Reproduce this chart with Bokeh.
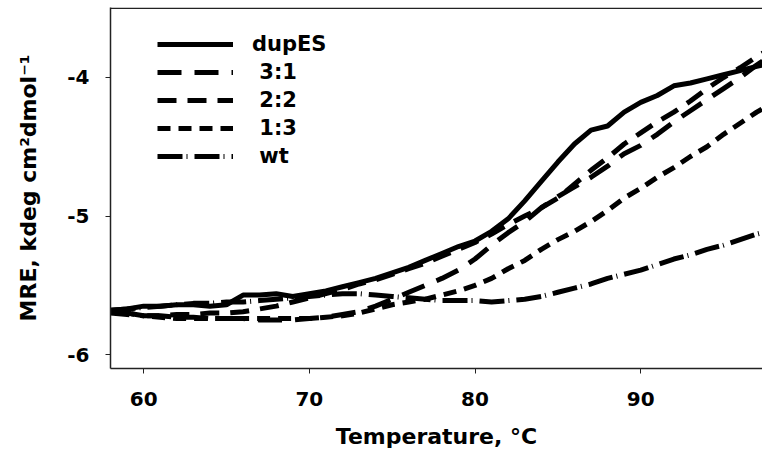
from bokeh.plotting import figure
from bokeh.models import Legend, LegendItem, FixedTicker, Span
from bokeh.embed import file_html
from bokeh.resources import INLINE

temps = list(range(58, 99))
dupES = [-5.68, -5.67, -5.65, -5.65, -5.64, -5.64, -5.65, -5.64, -5.57, -5.57,
         -5.56, -5.58, -5.56, -5.54, -5.51, -5.48, -5.45, -5.41, -5.37, -5.32,
         -5.27, -5.22, -5.18, -5.11, -5.02, -4.89, -4.75, -4.61, -4.48, -4.38,
         -4.35, -4.25, -4.18, -4.13, -4.06, -4.04, -4.01, -3.98, -3.95, -3.92, -3.89]
r31 = [-5.69, -5.70, -5.72, -5.72, -5.73, -5.73, -5.74, -5.74, -5.74, -5.75,
       -5.75, -5.75, -5.74, -5.73, -5.71, -5.69, -5.65, -5.60, -5.55, -5.50,
       -5.45, -5.39, -5.31, -5.21, -5.12, -5.04, -4.94, -4.86, -4.79, -4.72,
       -4.64, -4.55, -4.49, -4.41, -4.32, -4.24, -4.16, -4.08, -4.00, -3.91, -3.83]
r22 = [-5.70, -5.71, -5.72, -5.72, -5.71, -5.71, -5.70, -5.70, -5.69, -5.67,
       -5.65, -5.62, -5.59, -5.56, -5.53, -5.49, -5.46, -5.42, -5.38, -5.34,
       -5.29, -5.24, -5.19, -5.13, -5.06, -5.00, -4.94, -4.87, -4.77, -4.67,
       -4.58, -4.48, -4.40, -4.32, -4.25, -4.17, -4.08, -4.00, -3.93, -3.85, -3.78]
r13 = [-5.69, -5.70, -5.72, -5.73, -5.74, -5.74, -5.74, -5.74, -5.74, -5.74,
       -5.74, -5.74, -5.74, -5.73, -5.72, -5.70, -5.67, -5.64, -5.62, -5.60,
       -5.57, -5.54, -5.50, -5.45, -5.38, -5.32, -5.24, -5.17, -5.11, -5.04,
       -4.96, -4.87, -4.80, -4.72, -4.65, -4.57, -4.50, -4.41, -4.33, -4.25, -4.18]
wt = [-5.68, -5.67, -5.66, -5.65, -5.64, -5.63, -5.63, -5.62, -5.62, -5.61,
      -5.60, -5.59, -5.58, -5.57, -5.56, -5.56, -5.57, -5.58, -5.59, -5.60,
      -5.61, -5.61, -5.61, -5.62, -5.61, -5.60, -5.58, -5.55, -5.52, -5.49,
      -5.45, -5.42, -5.39, -5.35, -5.31, -5.28, -5.24, -5.21, -5.17, -5.13, -5.10]

series_labels = ["dupES", " 3:1", " 2:2", " 1:3", " wt"]
series_values = [dupES, r31, r22, r13, wt]
series_dash = ["solid", "24 13", "19 11", "13 8", "25 4 1 7"]

x_ticks = [60, 70, 80, 90]
x_tick_labels = ["60", "70", "80", "90"]
y_ticks = [-6, -5, -4]
y_tick_labels = ["-6", "-5", "-4"]
x_title = "Temperature, °C"
y_title = "MRE, kdeg cm²dmol⁻¹"

FONT = "DejaVu Sans"

p = figure(width=762, height=454, x_range=(58, 97.35), y_range=(-6.10, -3.495),
           output_backend="svg", toolbar_location=None,
           min_border_left=110, min_border_top=7, min_border_right=0,
           min_border_bottom=86)
p.grid.visible = False
p.outline_line_color = None
p.background_fill_color = "white"

items = []
for lab, vals, dash in zip(series_labels, series_values, series_dash):
    r = p.line(temps, vals, line_color="black", line_width=5, line_dash=dash)
    items.append(LegendItem(label=lab, renderers=[r]))

p.add_layout(Span(location=-3.5, dimension="width", line_color="#222222", line_width=1.5))

for ax in (p.xaxis[0], p.yaxis[0]):
    ax.axis_line_color = "#222222"
    ax.axis_line_width = 1.5
    ax.major_tick_line_color = "#222222"
    ax.major_tick_line_width = 1
    ax.major_tick_out = 5
    ax.major_tick_in = 0
    ax.minor_tick_line_color = None
    ax.major_label_text_font = FONT
    ax.major_label_text_font_style = "bold"
    ax.major_label_text_font_size = "20px"
    ax.major_label_text_color = "black"
    ax.axis_label_text_font = FONT
    ax.axis_label_text_font_style = "bold"
    ax.axis_label_text_font_size = "22px"
    ax.axis_label_text_color = "black"

p.xaxis[0].ticker = FixedTicker(ticks=x_ticks)
p.xaxis[0].major_label_overrides = dict(zip(x_ticks, x_tick_labels))
p.yaxis[0].ticker = FixedTicker(ticks=y_ticks)
p.yaxis[0].major_label_overrides = dict(zip(y_ticks, y_tick_labels))
p.xaxis[0].axis_label = x_title
p.yaxis[0].axis_label = y_title
p.xaxis[0].major_label_standoff = 18
p.xaxis[0].axis_label_standoff = 15
p.yaxis[0].major_label_standoff = 16
p.yaxis[0].axis_label_standoff = 23

legend = Legend(items=items, location=(47, 198), border_line_color=None,
                background_fill_alpha=0, label_text_font=FONT,
                label_text_font_style="bold", label_text_font_size="21px",
                label_text_color="black",
                glyph_width=76, glyph_height=28, label_height=28, spacing=0,
                padding=0, margin=0, label_standoff=19)
p.add_layout(legend)

open("out.html", "w").write(file_html(p, INLINE))
